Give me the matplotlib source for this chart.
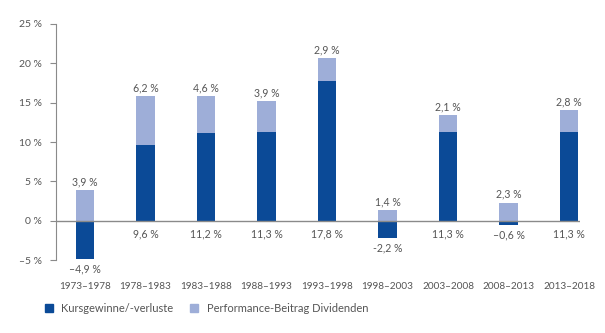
import numpy as np
import matplotlib.pyplot as plt
from matplotlib.patches import Patch

periods = ["1973–1978", "1978–1983", "1983–1988", "1988–1993", "1993–1998",
           "1998–2003", "2003–2008", "2008–2013", "2013–2018"]
kurs = [-4.9, 9.6, 11.2, 11.3, 17.8, -2.2, 11.3, -0.6, 11.3]
kurs_labels = ["–4,9 %", "9,6 %", "11,2 %", "11,3 %", "17,8 %",
               "-2,2 %", "11,3 %", "–0,6 %", "11,3 %"]
divid = [3.9, 6.2, 4.6, 3.9, 2.9, 1.4, 2.1, 2.3, 2.8]
divid_labels = ["3,9 %", "6,2 %", "4,6 %", "3,9 %", "2,9 %",
                "1,4 %", "2,1 %", "2,3 %", "2,8 %"]
yticks = [-5, 0, 5, 10, 15, 20, 25]
ytick_labels = ["–5 %", "0 %", "5 %", "10 %", "15 %", "20 %", "25 %"]

DARK = "#0b4a97"
LIGHT = "#9eaed8"
GREY = "#555555"

plt.rcParams.update({"font.family": ["Lato", "DejaVu Sans"], "font.size": 7.5})

fig = plt.figure(figsize=(6.05, 3.33), dpi=100)
ax = fig.add_axes([0.0926, 0.219, 0.866, 0.709])

x = np.arange(len(periods))
kurs_arr = np.array(kurs)
bottom = np.maximum(kurs_arr, 0)
w = 0.3
ax.bar(x, kurs_arr, width=w, color=DARK, zorder=2)
ax.bar(x, divid, width=w, bottom=bottom, color=LIGHT, zorder=2)
ax.axhline(0, color="#8a8a8a", linewidth=1.0, zorder=3)

for i in range(len(x)):
    top = bottom[i] + divid[i]
    ax.annotate(divid_labels[i], (x[i], top), xytext=(0, 2), textcoords="offset points",
                ha="center", va="bottom", color=GREY, fontsize=7.6)
    low = min(kurs[i], 0)
    off = -5.5 if kurs[i] > 0 else -3
    ax.annotate(kurs_labels[i], (x[i], low), xytext=(0, off), textcoords="offset points",
                ha="center", va="top", color=GREY, fontsize=7.6)
    ax.annotate(periods[i], (x[i], -5), xytext=(0, -16), textcoords="offset points",
                ha="center", va="top", color=GREY, fontsize=7.2)

ax.set_xlim(-0.48, 8.18)
ax.set_ylim(-5, 25)
ax.set_yticks(yticks)
ax.set_yticklabels(ytick_labels, color=GREY)
ax.tick_params(axis="y", length=4, color="#8a8a8a", pad=6)
ax.set_xticks([])
for s in ["top", "right", "bottom"]:
    ax.spines[s].set_visible(False)
ax.spines["left"].set_color("#8a8a8a")
ax.spines["left"].set_bounds(-5, 25)

handles = [Patch(color=DARK, label="Kursgewinne/-verluste"),
           Patch(color=LIGHT, label="Performance-Beitrag Dividenden")]
fig.legend(handles=handles, loc="center left", bbox_to_anchor=(0.074, 0.075), ncol=2,
           frameon=False, borderpad=0, borderaxespad=0,
           handlelength=0.7, handleheight=0.7, handletextpad=0.8, columnspacing=1.5,
           labelcolor=GREY, fontsize=8)

fig.savefig("out.png", dpi=100)
